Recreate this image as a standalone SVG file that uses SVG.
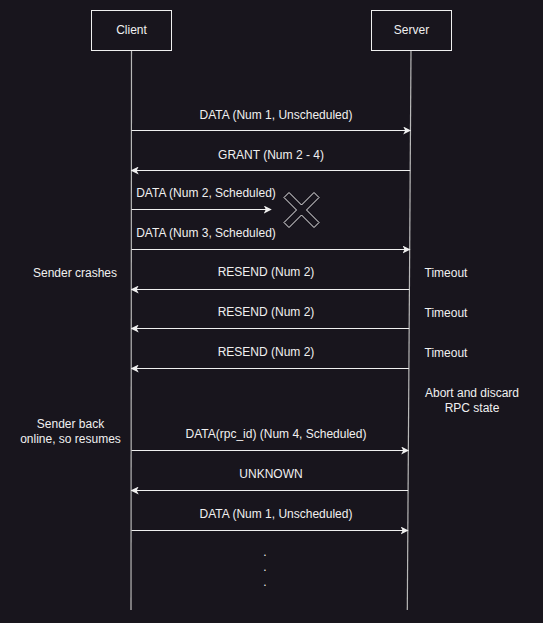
<svg xmlns="http://www.w3.org/2000/svg" width="543" height="623" viewBox="0 0 543 623">
<style>
.bg{fill:#18151d}
.box{fill:#18151d;stroke:#f0f0f0;stroke-width:1}
.life{stroke:#b8b8b8;stroke-width:1.2;fill:none}
.msg{stroke:#f0f0f0;stroke-width:1;fill:none;marker-end:url(#ah)}
text{font-family:"Liberation Sans",Arial,sans-serif;font-size:12px;fill:#f0f0f0;text-anchor:middle}
</style>
<defs>
<marker id="ah" viewBox="0 0 10 10" refX="9" refY="5" markerWidth="8" markerHeight="8" markerUnits="userSpaceOnUse" orient="auto">
<path d="M0,0 L10,5 L0,10 L2.5,5 Z" fill="#f0f0f0"/>
</marker>
</defs>
<rect class="bg" x="0" y="0" width="543" height="623"/>
<g id="client">
<line class="life" x1="131.5" y1="50" x2="131" y2="610"/>
<rect class="box" x="91.5" y="10.5" width="80" height="40"/>
<text x="131.5" y="34">Client</text>
</g>
<g id="server">
<line class="life" x1="411" y1="50" x2="407.3" y2="610"/>
<rect class="box" x="371.5" y="10.5" width="80" height="40"/>
<text x="411.5" y="34">Server</text>
</g>
<g id="connectors">
<line class="msg" x1="131.5" y1="130.5" x2="410.4" y2="130.5"/>
<line class="msg" x1="410.2" y1="170.5" x2="131.5" y2="170.5"/>
<line class="msg" x1="131.5" y1="209.5" x2="271" y2="209.5"/>
<line class="msg" x1="131.5" y1="249.5" x2="409.7" y2="249.5"/>
<line class="msg" x1="409.4" y1="289.5" x2="131.5" y2="289.5"/>
<line class="msg" x1="409.2" y1="328.5" x2="131.5" y2="328.5"/>
<line class="msg" x1="408.9" y1="368.5" x2="131.5" y2="368.5"/>
<line class="msg" x1="131.5" y1="450.5" x2="408.4" y2="450.5"/>
<line class="msg" x1="408.1" y1="490.5" x2="131.5" y2="490.5"/>
<line class="msg" x1="131.5" y1="530.5" x2="407.8" y2="530.5"/>
</g>
<g id="labels">
<text x="276" y="119">DATA (Num 1, Unscheduled)</text>
<text x="271" y="159">GRANT (Num 2 - 4)</text>
<text x="206" y="197">DATA (Num 2, Scheduled)</text>
<text x="206" y="237">DATA (Num 3, Scheduled)</text>
<text x="266" y="276">RESEND (Num 2)</text>
<text x="266" y="316">RESEND (Num 2)</text>
<text x="266" y="356">RESEND (Num 2)</text>
<text x="276" y="438">DATA(rpc_id) (Num 4, Scheduled)</text>
<text x="271" y="478">UNKNOWN</text>
<text x="276" y="518">DATA (Num 1, Unscheduled)</text>
</g>
<g id="cross">
<path d="M284,197.5 L289,192.5 L301.5,205 L314,192.5 L319,197.5 L306.5,210 L319,222.5 L314,227.5 L301.5,215 L289,227.5 L284,222.5 L296.5,210 Z" fill="#18151d" stroke="#f0f0f0" stroke-width="1"/>
</g>
<g id="notes">
<text x="75" y="277">Sender crashes</text>
<text x="70.5" y="427.5">Sender back</text>
<text x="70.5" y="442.5">online, so resumes</text>
<text x="446" y="277">Timeout</text>
<text x="446" y="317">Timeout</text>
<text x="446" y="357">Timeout</text>
<text x="472" y="397">Abort and discard</text>
<text x="472" y="412">RPC state</text>
</g>
<g id="dots">
<text x="265" y="556">.</text>
<text x="265" y="571">.</text>
<text x="265" y="586">.</text>
</g>
</svg>
